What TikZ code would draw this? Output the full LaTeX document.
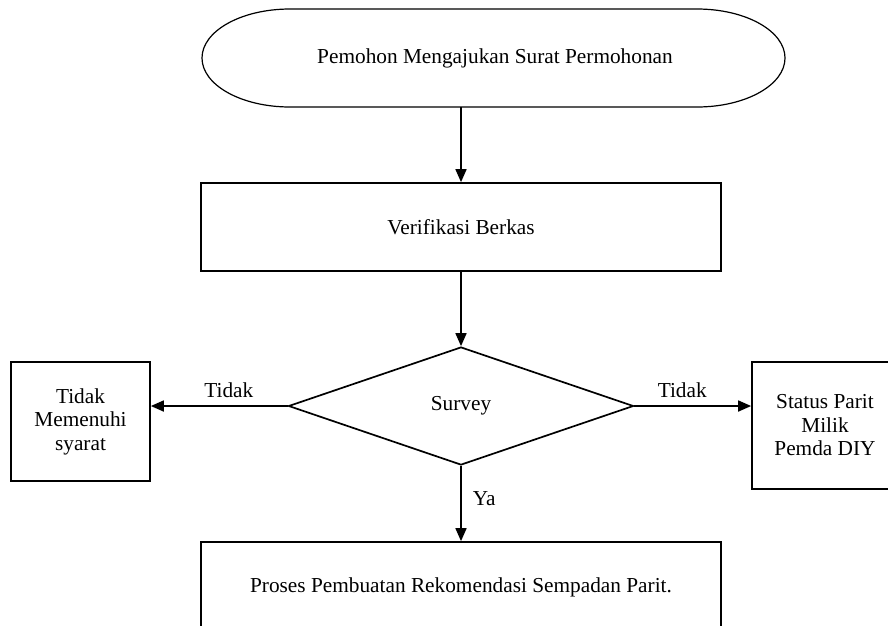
\documentclass[tikz,border=0pt]{standalone}
\usepackage{fontspec}
\setmainfont{Liberation Serif}
\usetikzlibrary{shapes.geometric,arrows.meta}
\begin{document}
\begin{tikzpicture}[x=1pt,y=-1pt,
  every node/.style={font=\fontsize{21.3}{23.5}\selectfont, align=center},
  box/.style={draw, line width=1.7pt, inner sep=0pt},
  arr/.style={line width=1.7pt, -{Triangle[length=13pt,width=11pt]}},
  lbl/.style={inner sep=2pt}]
\useasboundingbox (0,0) rectangle (888,625);
\clip (0,0) rectangle (888,625);
\fill[white] (0,0) rectangle (888,625);

\node[minimum width=584pt, minimum height=98pt, inner sep=0pt] (start) at (495,58) {Pemohon Mengajukan Surat Permohonan};
\draw[line width=1.2pt] (290,9) -- (697,9)
  arc[start angle=90, end angle=-90, x radius=88pt, y radius=49pt] -- (290,107)
  arc[start angle=270, end angle=90, x radius=88pt, y radius=49pt] -- cycle;

\node[box, minimum width=520pt, minimum height=88pt] (verif) at (461,227) {Verifikasi Berkas};
\node[diamond, draw, line width=1.7pt, minimum width=345pt, minimum height=118pt, inner sep=0pt] (survey) at (461,406) {Survey};
\node[box, minimum width=139pt, minimum height=119pt] (tms) at (80.5,421.5) {Tidak\\Memenuhi\\syarat};
\node[box, minimum width=146pt, minimum height=127pt] (status) at (825,425.5) {Status Parit\\Milik\\Pemda DIY};
\node[box, minimum width=520pt, minimum height=90pt] (proses) at (461,587) {Proses Pembuatan Rekomendasi Sempadan Parit.};

\draw[arr] (start.south -| verif.north) -- (verif.north);
\draw[arr] (verif.south) -- (survey.north);
\draw[arr] (survey.west) -- (survey.west -| tms.east) node[lbl, pos=0.43, above=5pt] {Tidak};
\draw[arr] (survey.east) -- (survey.east -| status.west) node[lbl, pos=0.41, above=5pt] {Tidak};
\draw[arr] (survey.south) -- (proses.north) node[lbl, pos=0.43, right=9pt] {Ya};
\end{tikzpicture}
\end{document}
